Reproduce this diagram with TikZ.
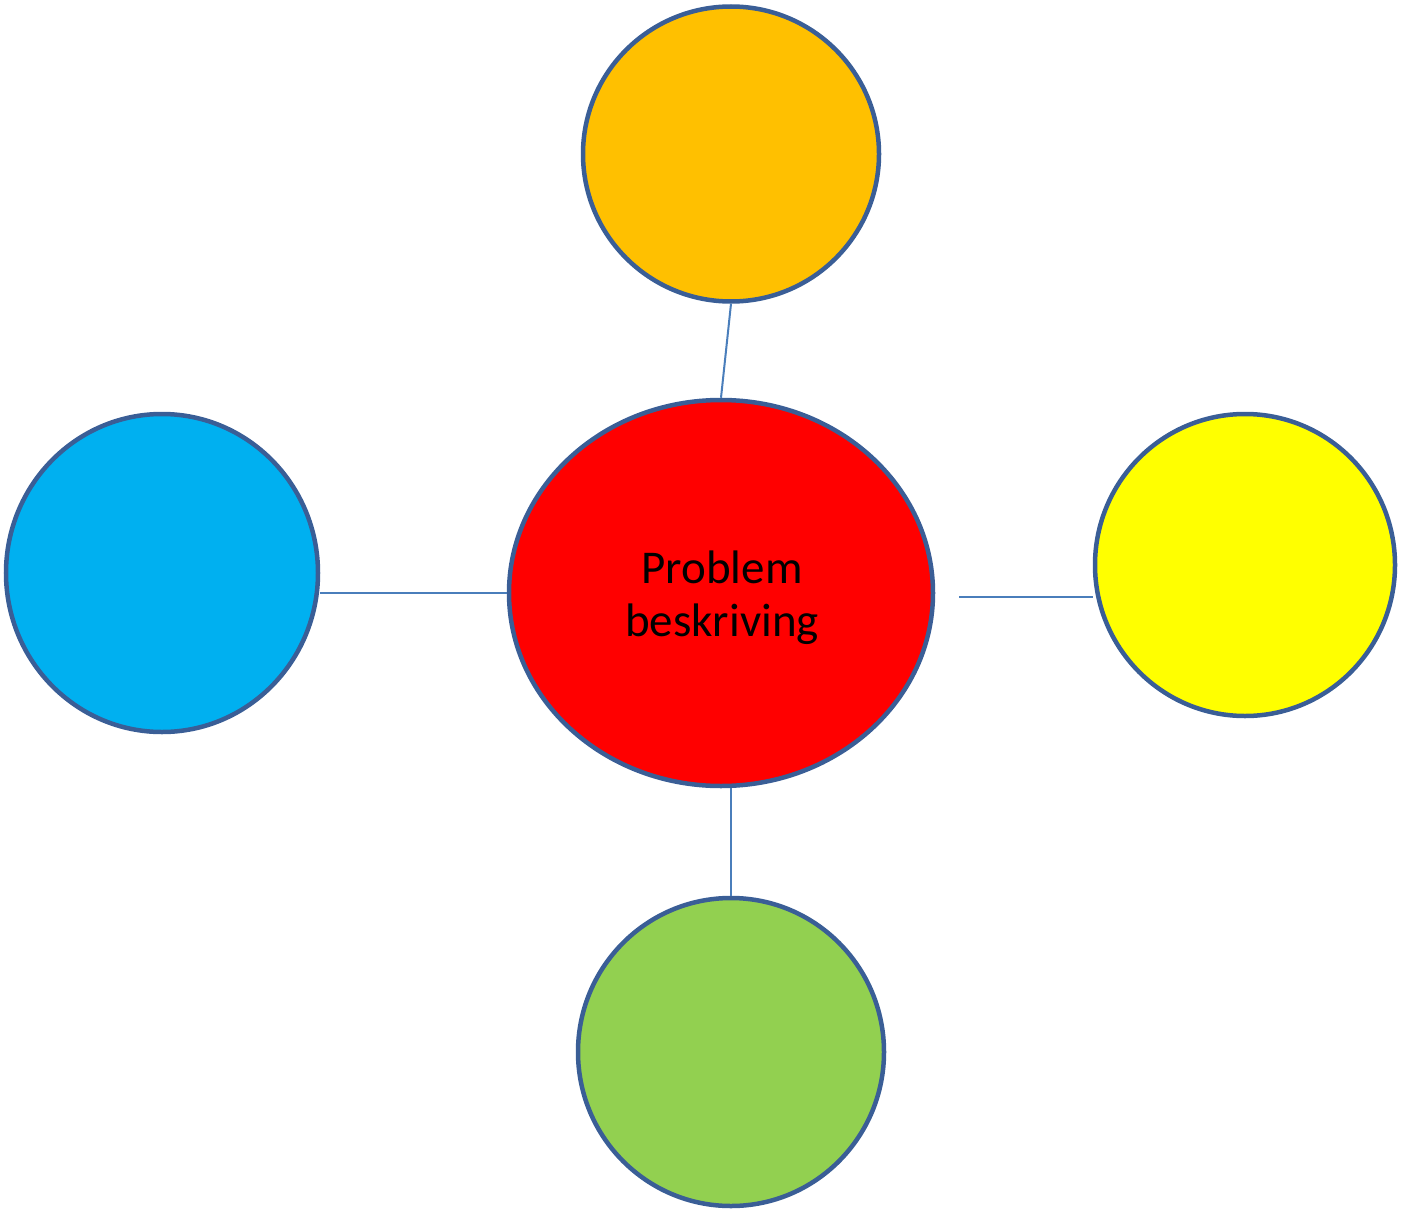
\documentclass[tikz,border=0pt]{standalone}
\usepackage{fontspec}
\setmainfont{Carlito}
\usetikzlibrary{shapes.geometric}
\definecolor{rim}{HTML}{3A5E96}
\definecolor{wire}{HTML}{4A7EBB}
\definecolor{cOrange}{HTML}{FFC000}
\definecolor{cBlue}{HTML}{00B0F0}
\definecolor{cRed}{HTML}{FF0000}
\definecolor{cYellow}{HTML}{FFFF00}
\definecolor{cGreen}{HTML}{92D050}
\tikzset{
  bubble/.style={ellipse, draw=rim, line width=4.5pt, inner sep=0pt},
  link/.style={draw=wire, line width=2pt}
}
\begin{document}
\begin{tikzpicture}[x=1pt,y=-1pt]
\useasboundingbox (0,0) rectangle (1402,1212);
\node[bubble, fill=cOrange, minimum width=296pt, minimum height=295pt] (o) at (731,154) {};
\node[bubble, fill=cBlue, minimum width=312pt, minimum height=318pt] (b) at (162,573) {};
\node[bubble, fill=cRed, minimum width=424pt, minimum height=386pt] (r) at (721,593) {};
\node[align=center, font=\fontsize{47}{53}\selectfont, inner sep=0pt] (t) at (722,598) {Problem\\beskriving};
\node[bubble, fill=cYellow, minimum width=300pt, minimum height=302pt] (y) at (1245,565) {};
\node[bubble, fill=cGreen, minimum width=306pt, minimum height=308pt] (g) at (731,1052) {};
\coordinate (yl) at (959,597);
\draw[link] (o.south) -- (r.north);
\draw[link] (r.west) -- (r.west -| b.east);
\draw[link] (yl) -- (y.west |- yl);
\draw[link] (g.north) -- (g.north |- r.south);
\end{tikzpicture}
\end{document}
